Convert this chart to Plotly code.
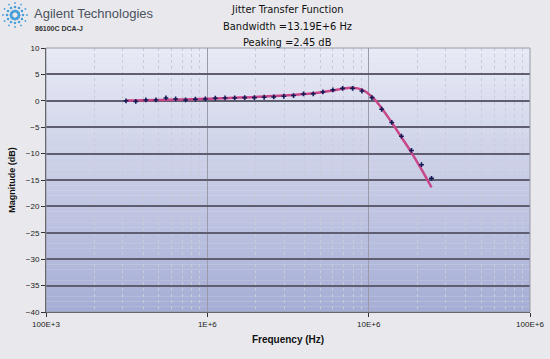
import math
import plotly.graph_objects as go

# ---- data ----
freq_hz = [313e3, 360e3, 416e3, 480e3, 554e3, 636e3, 733e3, 843e3, 972e3,
           1.121e6, 1.288e6, 1.478e6, 1.705e6, 1.959e6, 2.250e6, 2.581e6,
           2.978e6, 3.421e6, 3.947e6, 4.535e6, 5.203e6, 6.002e6, 6.895e6,
           7.953e6, 9.086e6, 10.48e6, 12.04e6, 13.90e6, 15.97e6, 18.42e6,
           21.25e6, 24.52e6]
measured_db = [0.0, -0.1, 0.16, 0.16, 0.54, 0.35, 0.16, 0.29, 0.35, 0.48,
               0.54, 0.54, 0.6, 0.6, 0.67, 0.73, 0.86, 0.99, 1.3, 1.33,
               1.68, 2.06, 2.35, 2.35, 1.86, 0.6, -1.6, -4.1, -6.7, -9.4,
               -12.1, -14.7]
fit_db = [0.05, 0.07, 0.1, 0.13, 0.17, 0.21, 0.26, 0.31, 0.37, 0.43, 0.5,
          0.57, 0.64, 0.72, 0.81, 0.9, 1.0, 1.12, 1.27, 1.45, 1.68, 1.97,
          2.3, 2.45, 2.1, 0.8, -1.4, -4.1, -6.9, -9.8, -13.0, -16.4]

x_tickvals = [1e5, 1e6, 1e7, 1e8]
x_ticktext = ["100E+3", "1E+6", "10E+6", "100E+6"]
x_minor = [m * d for d in (1e5, 1e6, 1e7) for m in range(2, 10)]
y_tickvals = [10, 5, 0, -5, -10, -15, -20, -25, -30, -35, -40]

title_lines = ["Jitter Transfer Function", "Bandwidth =13.19E+6 Hz", "Peaking =2.45 dB"]

FONT = "Liberation Sans"
NARROW = "DejaVu Sans Condensed, Liberation Sans"


def px(xp):
    """page pixel x -> paper fraction"""
    return (xp - 46) / 484


def py(yp):
    """page pixel y -> paper fraction"""
    return (312 - yp) / 264


fig = go.Figure()

fig.add_trace(go.Scatter(
    x=freq_hz, y=fit_db, mode="lines",
    line=dict(color="#c8478a", width=2.5, shape="spline"),
    hoverinfo="skip", showlegend=False))
fig.add_trace(go.Scatter(
    x=freq_hz, y=measured_db, mode="markers",
    marker=dict(symbol="cross", size=4, color="#141a55",
                line=dict(width=0)),
    showlegend=False))

# vertical gradient background of the plot area
top = (232, 234, 245)
bot = (166, 174, 213)
n = 50
for i in range(n):
    t = i / (n - 1)
    c = tuple(int(round(top[k] + (bot[k] - top[k]) * t)) for k in range(3))
    y0 = 10 - 50 * i / n
    y1 = 10 - 50 * (i + 1) / n
    fig.add_shape(type="rect", xref="paper", yref="y", x0=0, x1=1,
                  y0=y1, y1=y0, line=dict(width=0),
                  fillcolor="rgb(%d,%d,%d)" % c, layer="below")

# Agilent logo (decorative starburst)
lcx, lcy = 15, 15
for ang in range(0, 360, 30):
    for r, s in ((4, 1.6), (8, 1.3), (12, 0.9)):
        xx = lcx + r * math.cos(math.radians(ang))
        yy = lcy + r * math.sin(math.radians(ang))
        fig.add_shape(type="circle", xref="paper", yref="paper",
                      x0=px(xx - s), x1=px(xx + s),
                      y0=py(yy + s), y1=py(yy - s),
                      fillcolor="#4a9fd8", line=dict(width=0), layer="above")

fig.add_annotation(text="Agilent Technologies", xref="paper", yref="paper",
                   x=px(32), y=py(14), xanchor="left", yanchor="middle",
                   showarrow=False, font=dict(family=FONT, size=13, color="#4b5260"))
fig.add_annotation(text="<b>86100C DCA-J</b>", xref="paper", yref="paper",
                   x=px(33), y=py(29), xanchor="left", yanchor="middle",
                   showarrow=False, font=dict(family=FONT, size=7, color="#333"))

for i, line in enumerate(title_lines):
    fig.add_annotation(text=line, xref="paper", yref="paper",
                       x=px(287), y=py(10 + 16.5 * i),
                       xanchor="center", yanchor="middle",
                       showarrow=False,
                       font=dict(family=NARROW, size=11, color="#111"))

fig.update_layout(
    width=550, height=359,
    margin=dict(l=46, r=20, t=48, b=47, autoexpand=False),
    paper_bgcolor="#e9e9ed",
    plot_bgcolor="#dfe2f1",
    font=dict(family=FONT, size=8, color="#222"),
    showlegend=False,
)

fig.update_xaxes(
    type="log", range=[5, 8],
    tickvals=x_tickvals, ticktext=x_ticktext,
    ticks="outside", ticklen=4, tickcolor="#333",
    showline=True, linecolor="#333", linewidth=1, mirror=False,
    showgrid=True, gridcolor="#9a9aa8", gridwidth=1.2,
    minor=dict(tickvals=x_minor, showgrid=True, gridcolor="#c9cbd8",
               griddash="dot", gridwidth=1, ticks=""),
    tickfont=dict(family=FONT, size=8, color="#222"),
    title=dict(text="<b>Frequency (Hz)</b>", font=dict(family=FONT, size=10, color="#111"),
               standoff=8),
    zeroline=False, automargin=False,
)
fig.update_yaxes(
    range=[-40, 10], tickvals=y_tickvals,
    ticks="outside", ticklen=4, tickcolor="#333",
    showline=True, linecolor="#333", linewidth=1,
    showgrid=True, gridcolor="#5e5e70", gridwidth=1.6,
    tickfont=dict(family=FONT, size=8, color="#222"),
    title=dict(text="<b>Magnitude (dB)</b>", font=dict(family=FONT, size=9, color="#111"),
               standoff=8),
    zeroline=False, automargin=False,
)

# plot frame on right/top
fig.add_shape(type="rect", xref="paper", yref="paper", x0=0, x1=1, y0=0, y1=1,
              line=dict(color="#9a9aa8", width=1), layer="above")

fig.write_html("out.html",
               config={"displayModeBar": False},
               post_script="document.body.style.margin='0px';"
                           "document.documentElement.style.background='#e9e9ed';")
